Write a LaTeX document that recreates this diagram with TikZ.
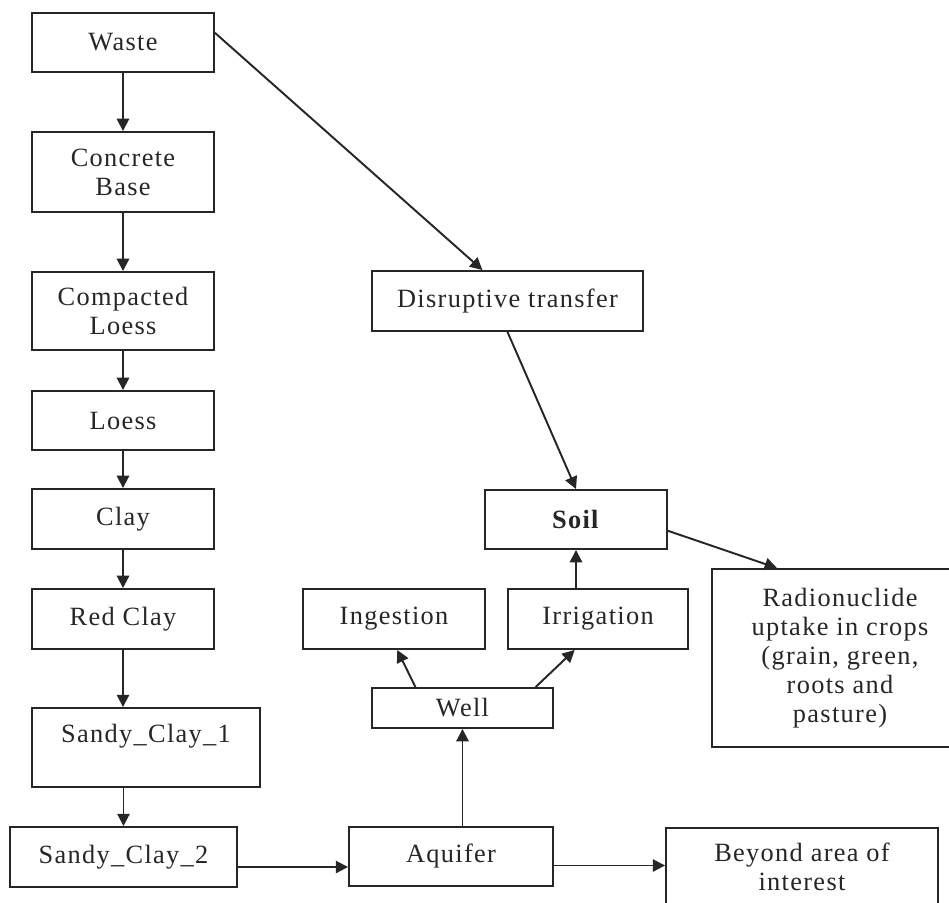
\documentclass[tikz,border=0pt]{standalone}
\usepackage{fontspec}
\setmainfont{Liberation Serif}[LetterSpace=5]
\usetikzlibrary{arrows.meta}
\begin{document}
\begin{tikzpicture}[x=0.02cm,y=-0.02cm,
    box/.style={draw=black!85,line width=1.1pt,inner sep=0pt,align=center,
      text=black!85,font=\fontsize{15}{16.5}\selectfont},
    flow/.style={draw=black!85,line width=1.1pt,-{Triangle[length=7pt,width=7pt]}}]
  \fill[white] (0,0) rectangle (949,902);
  \clip (0,0) rectangle (949,902);
  % left column
  \node[box,minimum width=3.64cm,minimum height=1.18cm] (waste) at (123,42.5) {Waste};
  \node[box,minimum width=3.64cm,minimum height=1.60cm] (concrete) at (123,172) {Concrete\\Base};
  \node[box,minimum width=3.64cm,minimum height=1.56cm] (compacted) at (123,311) {Compacted\\Loess};
  \node[box,minimum width=3.64cm,minimum height=1.18cm] (loess) at (123,420.5) {Loess};
  \node[box,minimum width=3.64cm,minimum height=1.20cm] (clay) at (123,519) {Clay};
  \node[box,minimum width=3.64cm,minimum height=1.20cm] (redclay) at (123,619) {Red Clay};
  \node[box,minimum width=4.56cm,minimum height=1.58cm] (sandy1) at (146,747.5) {Sandy\_Clay\_1\\\mbox{}};
  \node[box,minimum width=4.54cm,minimum height=1.20cm] (sandy2) at (123.5,857) {Sandy\_Clay\_2};
  % bottom row
  \node[box,minimum width=4.08cm,minimum height=1.18cm] (aquifer) at (451,856.5) {Aquifer};
  \node[box,minimum width=5.44cm,minimum height=1.56cm] (beyond) at (802,867) {Beyond area of\\interest};
  % well and uses
  \node[box,minimum width=3.62cm,minimum height=0.80cm] (well) at (462.5,708) {Well};
  \node[box,minimum width=3.64cm,minimum height=1.20cm] (ingestion) at (394,619) {Ingestion};
  \node[box,minimum width=3.60cm,minimum height=1.20cm] (irrigation) at (598,619) {Irrigation};
  \node[box,minimum width=3.64cm,minimum height=1.18cm] (soil) at (576,519.5) {\textbf{Soil}};
  \node[box,minimum width=5.12cm,minimum height=3.56cm] (radio) at (840,658)
    {Radionuclide\\uptake in crops\\(grain, green,\\roots and\\pasture)};
  \node[box,minimum width=5.42cm,minimum height=1.20cm] (disruptive) at (507.5,301) {Disruptive transfer};
  % connectors
  \foreach \a/\b in {waste/concrete,concrete/compacted,compacted/loess,loess/clay,clay/redclay}
    \draw[flow] (\a) -- (\b);
  \draw[flow] (redclay.south) -- (redclay.south |- sandy1.north);
  \draw[flow] (sandy2.north |- sandy1.south) -- (sandy2.north);
  \draw[flow] (sandy2.-5) -- (sandy2.-5 -| aquifer.west);
  \draw[flow] (aquifer.-5) -- (aquifer.-5 -| beyond.west);
  \draw[flow] (aquifer.north -| well.south) -- (well.south);
  \draw[flow] (well.156) -- (ingestion.-84);
  \draw[flow] (well.16) -- (irrigation.-127);
  \draw[flow] (irrigation.north -| soil.south) -- (soil.south);
  \draw[flow] (soil.-7) -- (radio.125);
  \draw[flow] (waste.6) -- (disruptive.129);
  \draw[flow] (disruptive.south) -- (soil.north);
\end{tikzpicture}
\end{document}
